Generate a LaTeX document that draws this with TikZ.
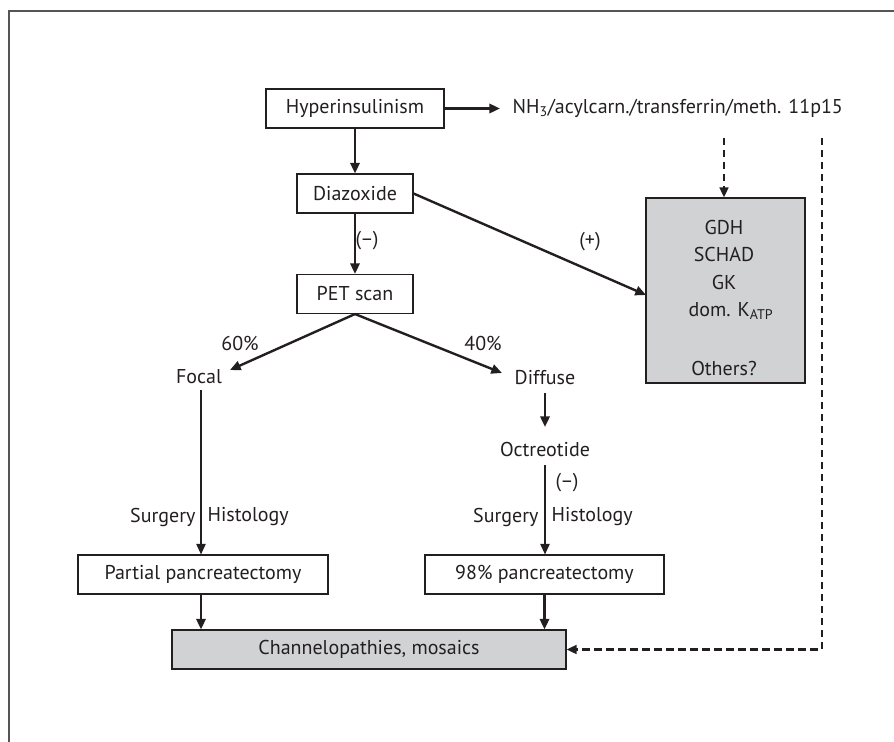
\documentclass[tikz,border=0pt]{standalone}
\usepackage{fontspec}
\setmainfont{PT Sans}
\usetikzlibrary{arrows.meta,calc}
\definecolor{ink}{HTML}{231F20}
\definecolor{boxgray}{HTML}{D1D2D4}
\definecolor{framegray}{HTML}{555555}
\tikzset{
  every node/.style={font=\fontsize{15}{17}\selectfont, text=ink},
  wbox/.style={draw=ink, line width=0.8pt, fill=white, inner sep=0pt, minimum height=29.25pt},
  gbox/.style={draw=ink, line width=0.8pt, fill=boxgray, inner sep=0pt, minimum height=29.25pt},
  txt/.style={inner sep=1pt},
  arr/.style={draw=ink, line width=1.8pt, -{Triangle[length=8pt,width=7pt]}},
  thinarr/.style={draw=ink, line width=1.3pt, -{Triangle[length=8pt,width=7pt]}},
  dasharr/.style={draw=ink, line width=1.8pt, dash pattern=on 5.5pt off 3.5pt, -{Triangle[length=7.5pt,width=6.5pt]}},
}
\begin{document}
\begin{tikzpicture}[x=0.75pt,y=-0.75pt]
\useasboundingbox (0,0) rectangle (894,742);
\draw[framegray, line width=1.5pt] (894,11) -- (9,11) -- (9,742);

\node[wbox, minimum width=133.5pt] (hyper) at (355,108.5) {Hyperinsulinism};
\node[wbox, minimum width=87pt] (diaz) at (355,193.5) {Diazoxide};
\node[wbox, minimum width=87pt] (pet) at (355,294) {PET scan};
\node[gbox, minimum width=119.25pt, minimum height=138.75pt] (gray) at (725.5,290.5) {};
\node[txt] (gdh) at (724,227) {GDH};
\node[txt] (schad) at (724,255) {SCHAD};
\node[txt] (gk) at (724,283) {GK};
\node[txt] (dom) at (731,311) {dom. K\textsubscript{ATP}};
\node[txt] (others) at (724,368) {Others?};

\node[txt, anchor=west] (nh3) at (511,108.5) {NH\textsubscript{3}/acylcarn./transferrin/meth. 11p15};
\coordinate (nhtip) at (500,108.5);

\node[txt] (focal) at (199,377) {Focal};
\node[txt] (diffuse) at (545,378) {Diffuse};
\node[txt] (octreo) at (545,449) {Octreotide};

\node[txt] (p60) at (240,343) {60\%};
\node[txt] (p40) at (483,343) {40\%};
\node[txt] (plus) at (590,242) {(+)};
\node[txt] (minus1) at (367,241) {(–)};
\node[txt] (minus2) at (567,483) {(–)};

\node[txt, anchor=east] (surg1) at (197,517) {Surgery};
\node[txt, anchor=west] (hist1) at (206,517) {Histology};
\node[txt, anchor=east] (surg2) at (540,517) {Surgery};
\node[txt, anchor=west] (hist2) at (550,517) {Histology};

\node[wbox, minimum width=187.5pt] (partial) at (203,574.5) {Partial pancreatectomy};
\node[wbox, minimum width=179.25pt] (pan98) at (544.5,574.5) {98\% pancreatectomy};
\node[gbox, minimum width=295.5pt] (chan) at (369,649.5) {Channelopathies, mosaics};

\coordinate (focaltip) at (230,370);
\coordinate (diffusetip) at (502,373);
\coordinate (graytip) at (646,295);
\coordinate (focaltop) at (201,390);
\coordinate (diffusetop) at (545,393);
\coordinate (octtop) at (545,465);
\coordinate (dashtop1) at (724,138);
\coordinate (dashtop2) at (822,138);

\draw[arr] (hyper.east) -- (nhtip);
\draw[arr] (hyper.south) -- (diaz.north);
\draw[arr] (diaz.south) -- (pet.north);
\draw[arr] (diaz.east) -- (graytip);
\draw[arr] (pet.south) -- (focaltip);
\draw[arr] (pet.south) -- (diffusetip);
\draw[thinarr] (focaltop) -- (focaltop |- partial.north);
\draw[arr] (diffusetop) -- (545,427);
\draw[thinarr] (octtop) -- (octtop |- pan98.north);
\draw[arr] (focaltop |- partial.south) -- (focaltop |- chan.north);
\draw[arr] (pan98.south) -- (pan98.south |- chan.north);
\draw[dasharr] (dashtop1) -- (dashtop1 |- gray.north);
\draw[dasharr] (dashtop2) -- (dashtop2 |- chan.east) -- (chan.east);
\end{tikzpicture}
\end{document}
